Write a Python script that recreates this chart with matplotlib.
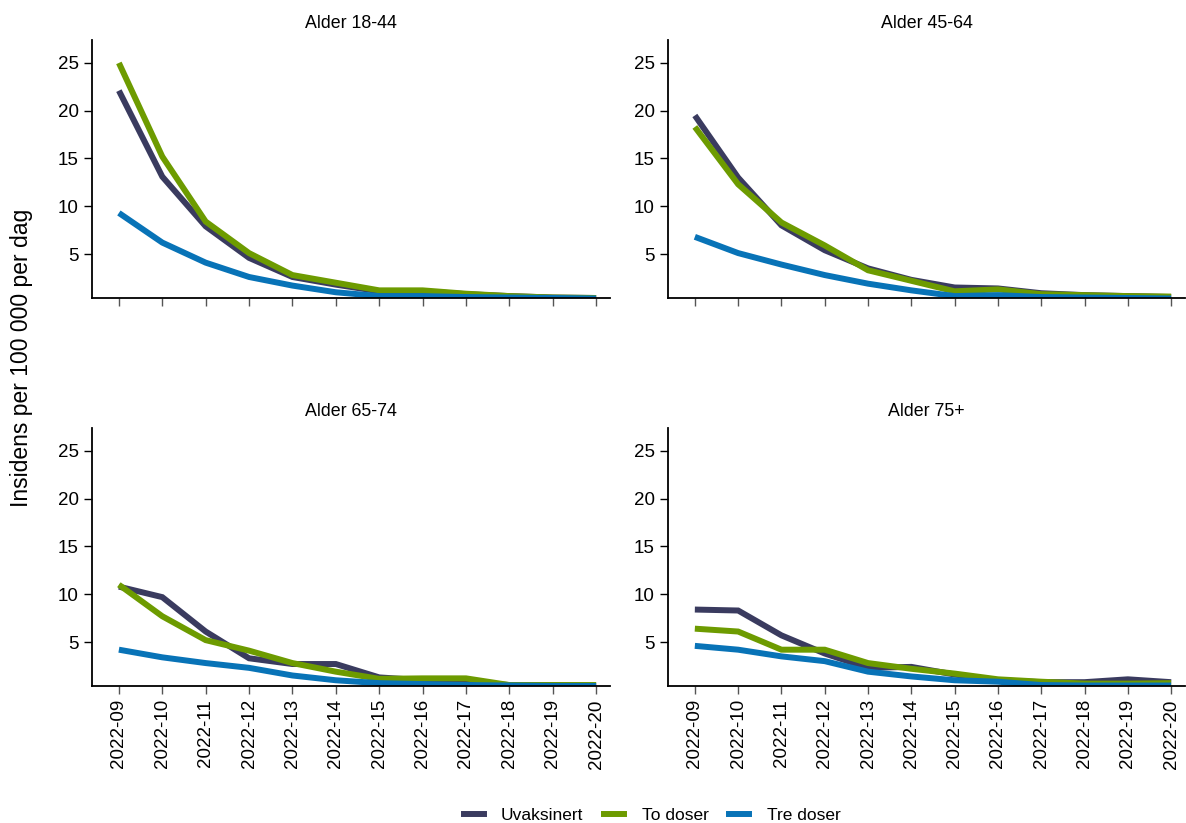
import matplotlib
matplotlib.use("Agg")
import matplotlib.pyplot as plt
from matplotlib.lines import Line2D

plt.rcParams['font.family'] = ['Liberation Sans', 'DejaVu Sans']

weeks = ["2022-09", "2022-10", "2022-11", "2022-12", "2022-13", "2022-14",
         "2022-15", "2022-16", "2022-17", "2022-18", "2022-19", "2022-20"]
groups = ["Alder 18-44", "Alder 45-64", "Alder 65-74", "Alder 75+"]
series_names = ["Uvaksinert", "To doser", "Tre doser"]
colors = ["#3a3b5f", "#6d9b00", "#0873b7"]

uvaksinert = {
    "Alder 18-44": [22.1, 13.1, 7.9, 4.6, 2.6, 1.8, 1.1, 1.1, 0.8, 0.6, 0.45, 0.4],
    "Alder 45-64": [19.5, 13.0, 8.0, 5.4, 3.5, 2.3, 1.5, 1.4, 0.9, 0.7, 0.6, 0.5],
    "Alder 65-74": [10.8, 9.7, 6.1, 3.3, 2.7, 2.7, 1.3, 1.0, 0.8, 0.5, 0.5, 0.45],
    "Alder 75+":   [8.4, 8.3, 5.7, 3.8, 2.3, 2.4, 1.6, 1.0, 0.8, 0.8, 1.1, 0.8],
}
to_doser = {
    "Alder 18-44": [25.0, 15.2, 8.4, 5.1, 2.8, 2.0, 1.2, 1.2, 0.85, 0.6, 0.45, 0.4],
    "Alder 45-64": [18.3, 12.3, 8.3, 5.9, 3.3, 2.2, 1.1, 1.3, 0.8, 0.7, 0.6, 0.55],
    "Alder 65-74": [11.0, 7.7, 5.2, 4.1, 2.8, 1.9, 1.15, 1.2, 1.2, 0.5, 0.5, 0.5],
    "Alder 75+":   [6.4, 6.1, 4.2, 4.2, 2.8, 2.2, 1.7, 1.1, 0.85, 0.65, 0.65, 0.7],
}
tre_doser = {
    "Alder 18-44": [9.3, 6.2, 4.1, 2.6, 1.7, 1.0, 0.6, 0.6, 0.5, 0.45, 0.4, 0.35],
    "Alder 45-64": [6.8, 5.1, 3.9, 2.8, 1.9, 1.2, 0.6, 0.7, 0.5, 0.45, 0.4, 0.35],
    "Alder 65-74": [4.2, 3.4, 2.8, 2.3, 1.5, 1.0, 0.7, 0.6, 0.5, 0.45, 0.4, 0.4],
    "Alder 75+":   [4.6, 4.2, 3.5, 3.0, 1.9, 1.4, 1.0, 0.85, 0.5, 0.45, 0.45, 0.45],
}
all_series = [uvaksinert, to_doser, tre_doser]

W, H = 1186, 823
fig = plt.figure(figsize=(W / 100, H / 100), dpi=100)

boxes = {
    "Alder 18-44": (92, 40, 610, 298),
    "Alder 45-64": (668, 40, 1185, 298),
    "Alder 65-74": (92, 428, 610, 686),
    "Alder 75+":   (668, 428, 1185, 686),
}

x = list(range(len(weeks)))
fs = 13.5
for i, g in enumerate(groups):
    l, t, r, b = boxes[g]
    ax = fig.add_axes([l / W, 1 - b / H, (r - l) / W, (b - t) / H])
    for s, c in zip(all_series, colors):
        ax.plot(x, s[g], color=c, lw=4.3, solid_capstyle='butt', solid_joinstyle='miter')
    ax.set_xlim(-0.62, 11.32)
    ax.set_ylim(0.4, 27.4)
    ax.set_yticks([5, 10, 15, 20, 25])
    ax.set_xticks(x)
    if i >= 2:
        ax.set_xticklabels(weeks, rotation=90, fontsize=fs)
    else:
        ax.set_xticklabels([])
    ax.tick_params(axis='both', direction='out', length=6, width=1, labelsize=fs,
                   colors='black')
    ax.tick_params(axis='x', colors='#555555', labelcolor='black')
    for sp in ['top', 'right']:
        ax.spines[sp].set_visible(False)
    for sp in ['left', 'bottom']:
        ax.spines[sp].set_linewidth(1.3)
    ax.set_title(g, fontsize=12.8, pad=9)

fig.text(22 / W, 1 - 358 / H, "Insidens per 100 000 per dag", rotation=90,
         ha='center', va='center', fontsize=16.5)

handles = [Line2D([0], [0], color=c, lw=4.3) for c in colors]
fig.legend(handles, series_names, loc='center', bbox_to_anchor=(652 / W, 1 - 815 / H),
           ncol=3, frameon=False, fontsize=12.5, handlelength=1.15, columnspacing=1.2,
           handletextpad=1.0)

fig.savefig("out.png", dpi=100)
